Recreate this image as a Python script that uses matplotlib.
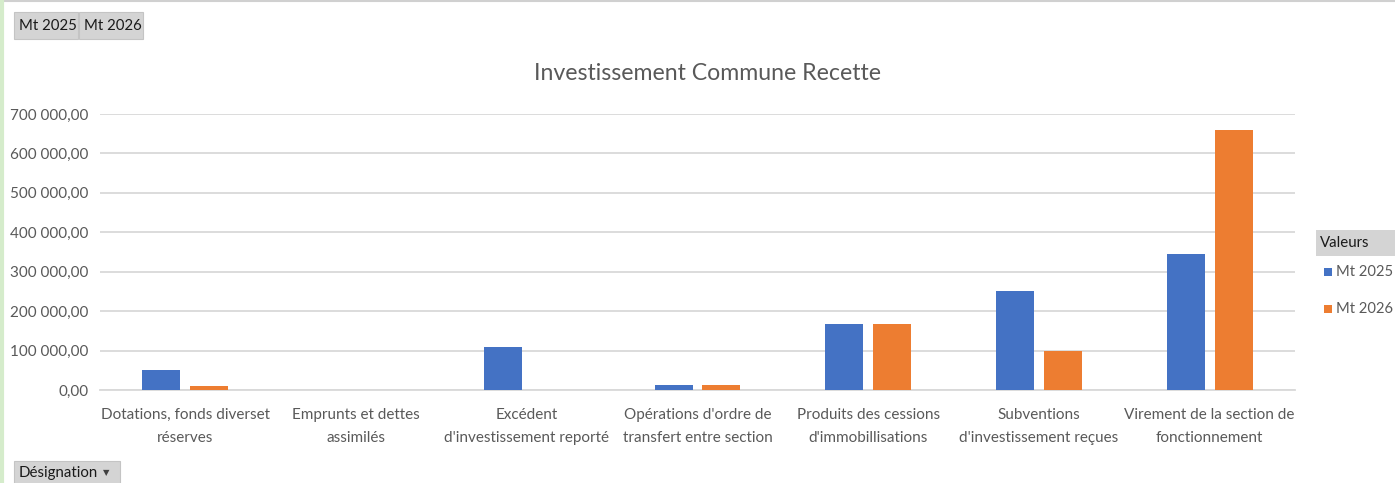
import matplotlib.pyplot as plt
import matplotlib as mpl
import matplotlib.ticker as ticker
from matplotlib.patches import Rectangle
import numpy as np

mpl.rcParams.update({
    'font.family': ['Lato', 'DejaVu Sans'],
    'font.size': 11,
})

categories = [
    "Dotations, fonds diverset\nréserves",
    "Emprunts et dettes\nassimilés",
    "Excédent\nd'investissement reporté",
    "Opérations d'ordre de\ntransfert entre section",
    "Produits des cessions\nd'immobillisations",
    "Subventions\nd'investissement reçues",
    "Virement de la section de\nfonctionnement",
]
mt_2025 = [50700, 0, 109000, 13500, 168000, 252000, 345000]
mt_2026 = [11000, 0, 0, 13500, 168000, 100000, 659000]
series_names = ["Mt 2025", "Mt 2026"]
y_ticks = [0, 100000, 200000, 300000, 400000, 500000, 600000, 700000]

blue = '#4472C4'
orange = '#ED7D31'
txt = '#595959'

W, H = 1395, 483
fig = plt.figure(figsize=(W / 100, H / 100), dpi=100)

ax = fig.add_axes([100 / W, 1 - 390 / H, 1195 / W, 276 / H])

x = np.arange(len(categories))
bw = 0.223
gap = 0.057
ax.bar(x - (bw + gap) / 2, mt_2025, width=bw, color=blue, zorder=3)
ax.bar(x + (bw + gap) / 2, mt_2026, width=bw, color=orange, zorder=3)

ax.set_xlim(-0.5, len(categories) - 0.5)
ax.set_ylim(0, 700000)
ax.set_yticks(y_ticks)


def fmt(v, pos):
    return f"{v:,.2f}".replace(",", " ").replace(".", ",")


ax.yaxis.set_major_formatter(ticker.FuncFormatter(fmt))
ax.set_xticks(x)
ax.set_xticklabels(categories, color=txt, fontsize=11, linespacing=1.8)
ax.tick_params(axis='y', length=0, pad=8.5, colors=txt, labelsize=11)
ax.tick_params(axis='x', length=0, pad=13)
ax.grid(axis='y', color='#D9D9D9', linewidth=1.3, zorder=0)
for s in ['top', 'right', 'left']:
    ax.spines[s].set_visible(False)
ax.spines['bottom'].set_color('#D9D9D9')
ax.spines['bottom'].set_linewidth(1.3)

fig.text(707 / W, 1 - 74 / H, "Investissement Commune Recette",
         ha='center', va='center', fontsize=16.7, color=txt)


def button(x0, y0, w, h, label, arrow=False):
    r = Rectangle((x0 / W, 1 - (y0 + h) / H), w / W, h / H,
                  transform=fig.transFigure, facecolor='#D4D4D4',
                  edgecolor='#C4C4C4', linewidth=0.8, zorder=5)
    fig.add_artist(r)
    fig.text((x0 + 5) / W, 1 - (y0 + h / 2) / H, label, ha='left', va='center',
             fontsize=10.8, color='#1a1a1a', zorder=6)
    if arrow:
        fig.text((x0 + w - 14) / W, 1 - (y0 + h / 2) / H, "▼", ha='center',
                 va='center', fontsize=6, color='#404040', zorder=6)


button(14, 12, 64, 27, "Mt 2025")
button(79, 12, 64, 27, "Mt 2026")
button(14, 461, 106, 24, "Désignation", arrow=True)

# legend title box
fig.add_artist(Rectangle((1316 / W, 1 - 256 / H), 79 / W, 26 / H,
                         transform=fig.transFigure, facecolor='#D4D4D4',
                         edgecolor='none', zorder=5))
fig.text(1320 / W, 1 - 243 / H, "Valeurs", ha='left', va='center',
         fontsize=10.8, color='#1a1a1a', zorder=6)
for i, (name, col) in enumerate(zip(series_names, [blue, orange])):
    yc = 272 + i * 37
    fig.add_artist(Rectangle((1324 / W, 1 - (yc + 4) / H), 8 / W, 8 / H,
                             transform=fig.transFigure, facecolor=col,
                             edgecolor='none'))
    fig.text(1336 / W, 1 - yc / H, name, ha='left', va='center',
             fontsize=10.6, color=txt)

# outer frame lines
fig.add_artist(plt.Line2D([0, 1], [1 - 1 / H, 1 - 1 / H], transform=fig.transFigure,
                          color='#D0D0D0', linewidth=1.5))
fig.add_artist(plt.Line2D([1.5 / W, 1.5 / W], [0, 1], transform=fig.transFigure,
                          color='#D5ECCB', linewidth=3))

plt.savefig("out.png", dpi=100)
